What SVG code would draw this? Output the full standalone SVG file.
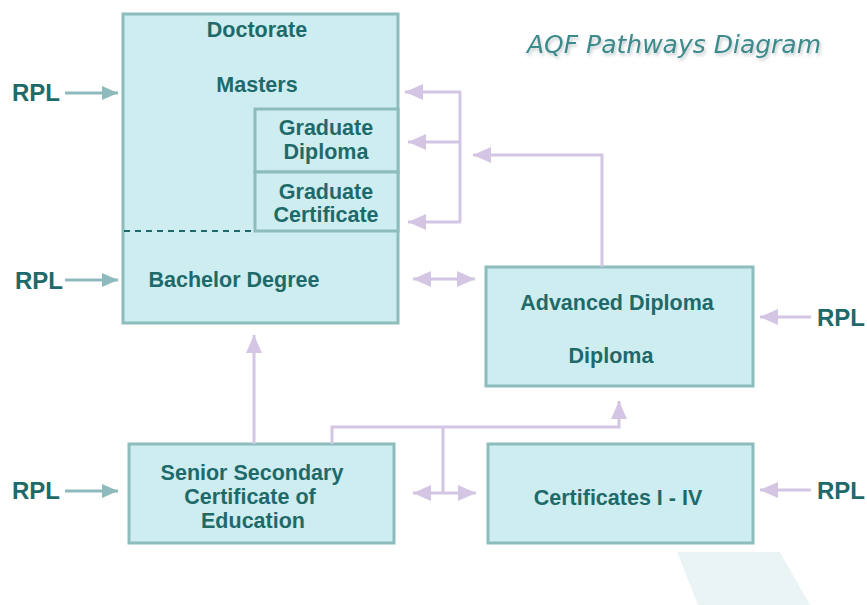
<svg xmlns="http://www.w3.org/2000/svg" width="867" height="605" viewBox="0 0 867 605">
<style>
.box{fill:#cdedf0;stroke:#8dbcbd;stroke-width:3}
.t{font-family:"Liberation Sans",Arial,sans-serif;font-weight:bold;font-size:21.5px;fill:#1e6a6a;text-anchor:middle}
.rpl{font-family:"Liberation Sans",Arial,sans-serif;font-weight:bold;font-size:24px;fill:#1e6a6a}
.c{fill:none;stroke:#d3c5e3;stroke-width:3}
.r{fill:none;stroke:#8fbabd;stroke-width:3}
</style>
<defs>
<marker id="ah" markerUnits="userSpaceOnUse" markerWidth="20" markerHeight="18" refX="18" refY="8" orient="auto-start-reverse"><path d="M0,0 L18,8 L0,16 z" fill="#d3c5e3"/></marker>
<marker id="ar" markerUnits="userSpaceOnUse" markerWidth="18" markerHeight="16" refX="16" refY="7" orient="auto"><path d="M0,0 L16,7 L0,14 z" fill="#8fbabd"/></marker>
<filter id="sh" x="-10%" y="-30%" width="120%" height="180%"><feDropShadow dx="1.5" dy="2.5" stdDeviation="1.5" flood-color="#9aa8aa" flood-opacity="0.6"/></filter>
</defs>
<rect width="867" height="605" fill="#ffffff"/>
<polygon points="677,552 780,552 810,605 698,605" fill="#eaf4f5"/>
<text x="527" y="53" font-family="'DejaVu Sans',Verdana,sans-serif" font-style="italic" font-size="25px" fill="#3a8a8c" filter="url(#sh)">AQF Pathways Diagram</text>

<g id="higher-ed">
<rect class="box" x="123" y="14" width="275" height="309"/>
<line x1="124" y1="231" x2="255" y2="231" stroke="#1e6a6a" stroke-width="2" stroke-dasharray="6 5"/>
<text class="t" x="257" y="37">Doctorate</text>
<text class="t" x="257" y="92">Masters</text>
<text class="t" x="234" y="287">Bachelor Degree</text>
</g>
<g id="grad-diploma">
<rect class="box" x="255" y="109" width="143" height="63"/>
<text class="t" x="326" y="135">Graduate</text>
<text class="t" x="326" y="159">Diploma</text>
</g>
<g id="grad-certificate">
<rect class="box" x="255" y="172" width="143" height="59"/>
<text class="t" x="326" y="199">Graduate</text>
<text class="t" x="326" y="222">Certificate</text>
</g>
<g id="adv-diploma">
<rect class="box" x="486" y="267" width="267" height="119"/>
<text class="t" x="617" y="310">Advanced Diploma</text>
<text class="t" x="611" y="363">Diploma</text>
</g>
<g id="senior">
<rect class="box" x="129" y="444" width="265" height="99"/>
<text class="t" x="252" y="480">Senior Secondary</text>
<text class="t" x="250" y="504">Certificate of</text>
<text class="t" x="253" y="528">Education</text>
</g>
<g id="certificates">
<rect class="box" x="488" y="444" width="265" height="99"/>
<text class="t" x="618" y="505">Certificates I - IV</text>
</g>
<g id="rpl-labels">
<text class="rpl" x="12" y="101">RPL</text>
<text class="rpl" x="15" y="289">RPL</text>
<text class="rpl" x="12" y="499">RPL</text>
<text class="rpl" x="817" y="326">RPL</text>
<text class="rpl" x="817" y="499">RPL</text>
</g>
<g id="connectors">
<path class="c" d="M460,92 L460,222"/>
<path class="c" d="M461,92 L405,92" marker-end="url(#ah)"/>
<path class="c" d="M460,142 L408,142" marker-end="url(#ah)"/>
<path class="c" d="M461,222 L408,222" marker-end="url(#ah)"/>
<path class="c" d="M602,267 L602,155 L473,155" marker-end="url(#ah)"/>
<path class="c" d="M413,279 L475,279" marker-start="url(#ah)" marker-end="url(#ah)"/>
<path class="c" d="M254,444 L254,335" marker-end="url(#ah)"/>
<path class="c" d="M332,444 L332,427 L619,427 L619,401" marker-end="url(#ah)"/>
<path class="c" d="M443,427 L443,493"/>
<path class="c" d="M413,493 L476,493" marker-start="url(#ah)" marker-end="url(#ah)"/>
<path class="r" d="M65,93 L118,93" marker-end="url(#ar)"/>
<path class="r" d="M65,280 L118,280" marker-end="url(#ar)"/>
<path class="r" d="M65,491 L118,491" marker-end="url(#ar)"/>
<path class="c" d="M811,317 L760,317" marker-end="url(#ah)"/>
<path class="c" d="M811,490 L760,490" marker-end="url(#ah)"/>
</g>
</svg>
